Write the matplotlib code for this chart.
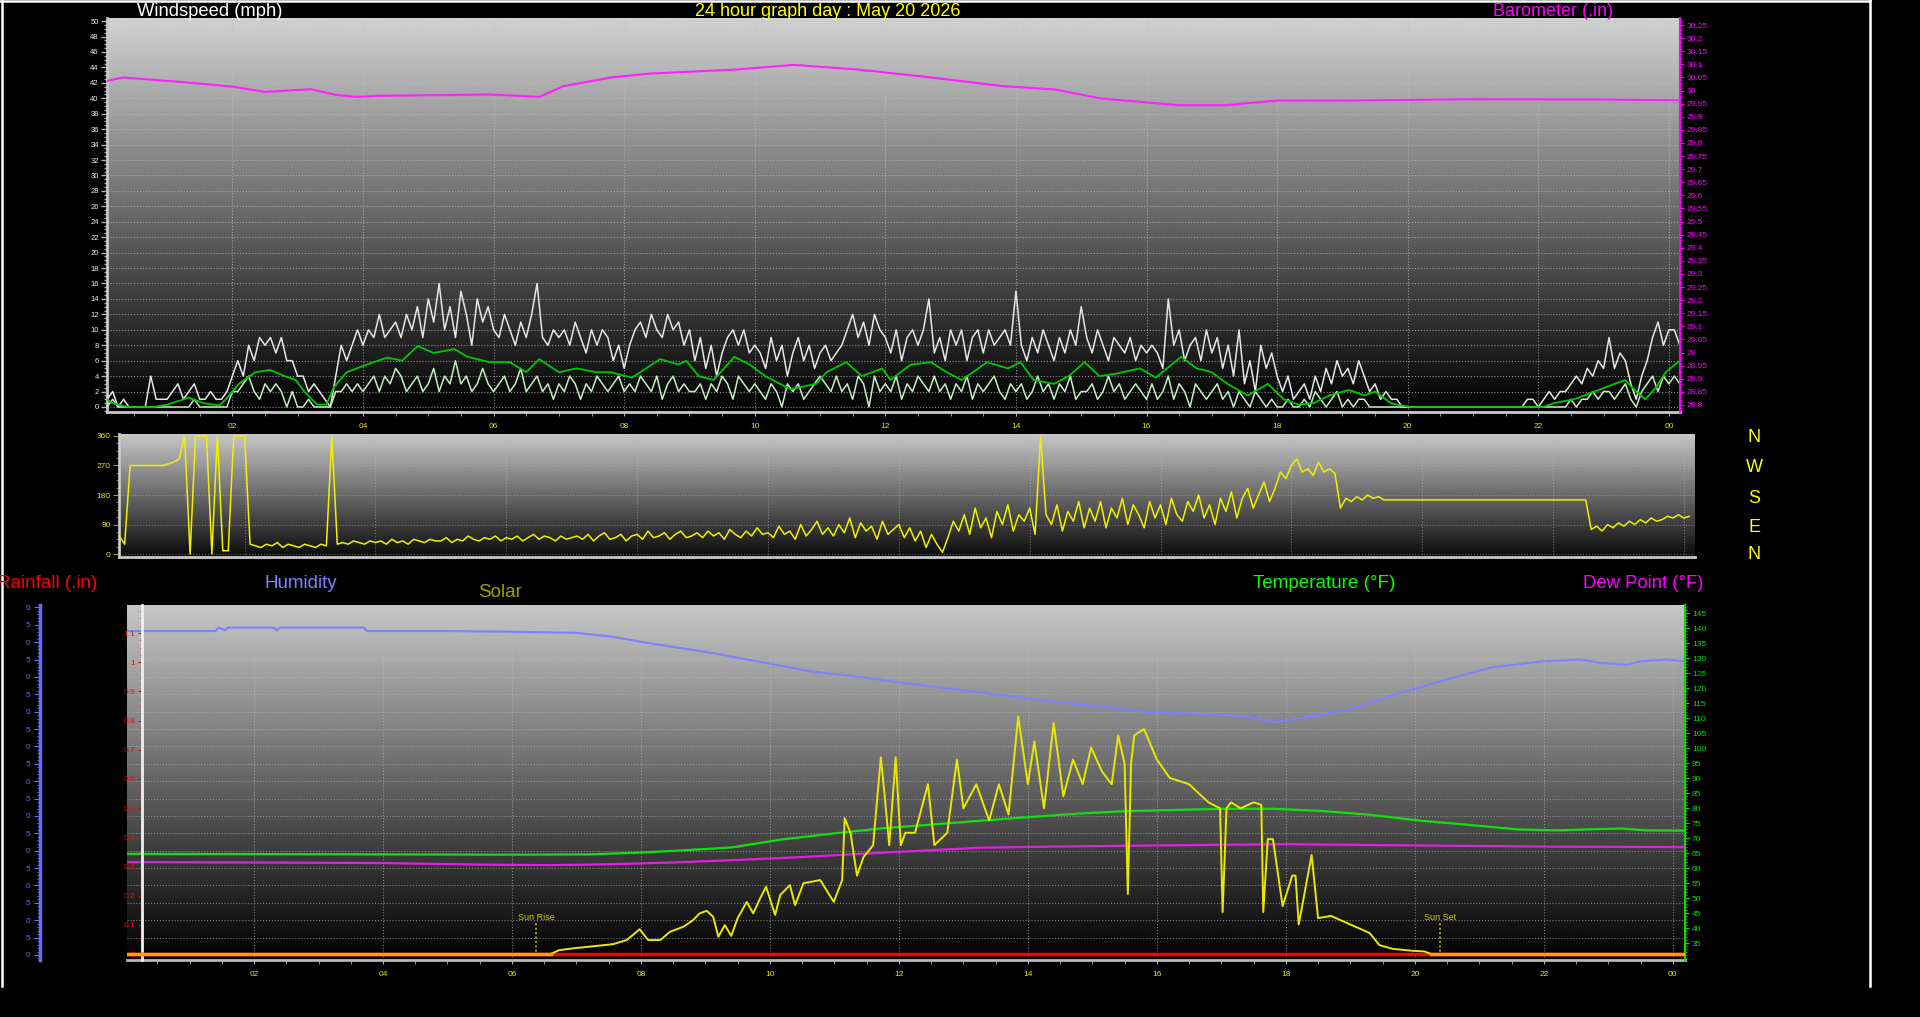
import numpy as np
import matplotlib
matplotlib.use("Agg")
import matplotlib.pyplot as plt
from matplotlib.ticker import MultipleLocator, FuncFormatter
from matplotlib.lines import Line2D

plt.rcParams['font.family'] = ['Liberation Sans', 'DejaVu Sans']

# ---------------- data (hours of the day) ----------------
# 5 minute samples, first one at 00:05
gust = [1, 2, 0, 1, 0, 0, 0, 0, 4, 1, 1, 1,          # 00
        2, 3, 1, 2, 3, 1, 1, 2, 1, 1, 2, 4,          # 01
        6, 4, 8, 6, 9, 8, 9, 7, 9, 6, 6, 4,          # 02
        4, 2, 3, 2, 1, 0, 4, 8, 6, 8, 10, 8,         # 03
        10, 9, 12, 9, 10, 11, 9, 12, 10, 13, 9, 14,  # 04
        11, 16, 10, 13, 9, 15, 12, 8, 14, 11, 13, 10,
        9, 12, 10, 8, 11, 9, 12, 16, 9, 8, 10, 9,
        10, 8, 11, 9, 7, 10, 8, 10, 9, 6, 8, 5,
        8, 10, 11, 9, 12, 10, 9, 12, 10, 11, 8, 10,  # 08
        6, 9, 5, 8, 4, 7, 9, 10, 8, 10, 7, 8,
        7, 5, 9, 6, 8, 4, 7, 9, 6, 8, 5, 7,
        8, 6, 7, 8, 10, 12, 9, 11, 8, 12, 10, 9,
        7, 10, 6, 9, 10, 8, 10, 14, 7, 9, 6, 10,     # 12
        8, 10, 6, 9, 10, 7, 10, 8, 9, 10, 8, 15,
        8, 6, 9, 7, 10, 8, 6, 9, 7, 10, 8, 13,
        9, 7, 10, 8, 6, 9, 8, 7, 9, 6, 8, 7,
        8, 7, 5, 14, 8, 10, 6, 8, 9, 6, 10, 7,       # 16
        9, 5, 8, 4, 10, 3, 6, 2, 8, 5, 7, 4,
        2, 4, 1, 2, 3, 1, 4, 2, 5, 3, 6, 4,
        5, 3, 6, 4, 2, 3, 1, 2, 1, 1, 0, 0,
        0, 0, 0, 0, 0, 0, 0, 0, 0, 0, 0, 0,          # 20
        0, 0, 0, 0, 0, 0, 0, 0, 0, 1, 1, 0,
        1, 2, 1, 2, 2, 3, 4, 3, 5, 4, 6, 5,
        9, 5, 7, 6, 3, 1, 4, 6, 9, 11, 8, 10,
        10, 8]

wind = [0, 1, 0, 0, 0, 0, 0, 0, 0, 0, 0, 0,
        0, 0, 0, 0, 1, 0, 0, 0, 0, 0, 0, 2,
        2, 3, 4, 2, 1, 3, 2, 3, 2, 0, 2, 0,
        0, 1, 0, 0, 0, 0, 2, 2, 3, 2, 3, 2,
        3, 4, 2, 4, 3, 5, 4, 2, 3, 4, 2, 3,
        5, 2, 4, 3, 6, 3, 4, 2, 3, 5, 3, 2,
        3, 4, 2, 3, 5, 2, 3, 4, 2, 3, 1, 3,
        2, 4, 3, 1, 3, 2, 4, 3, 2, 3, 4, 2,
        3, 2, 4, 3, 2, 4, 1, 3, 4, 2, 3, 2,
        2, 3, 1, 3, 2, 4, 3, 1, 4, 3, 2, 3,
        2, 1, 3, 2, 0, 3, 2, 3, 1, 2, 3, 4,
        3, 2, 4, 2, 3, 1, 4, 3, 0, 4, 2, 3,
        2, 4, 1, 3, 2, 4, 3, 2, 4, 2, 3, 1,
        3, 2, 4, 1, 3, 2, 3, 4, 2, 1, 3, 2,
        3, 1, 2, 4, 2, 3, 1, 3, 2, 4, 1, 2,
        2, 3, 1, 2, 4, 2, 3, 1, 2, 3, 2, 1,
        3, 1, 2, 4, 1, 3, 2, 0, 3, 2, 1, 2,
        3, 1, 2, 0, 2, 1, 0, 2, 1, 0, 1, 0,
        0, 1, 0, 0, 1, 0, 2, 1, 0, 1, 2, 0,
        1, 0, 1, 1, 0, 0, 0, 0, 0, 0, 0, 0,
        0, 0, 0, 0, 0, 0, 0, 0, 0, 0, 0, 0,
        0, 0, 0, 0, 0, 0, 0, 0, 0, 0, 0, 0,
        0, 0, 0, 0, 0, 1, 0, 1, 1, 2, 1, 2,
        2, 1, 2, 3, 1, 0, 2, 3, 4, 2, 4, 3,
        4, 3]

avg_t = [0.08, 0.16, 0.4, 0.8, 1.0, 1.33, 1.56, 1.8, 1.9, 2.1,
         2.35, 2.58, 2.8, 2.97, 3.1, 3.3, 3.44, 3.55, 3.75, 4.06,
         4.37, 4.6, 4.84, 5.08, 5.4, 5.6, 5.94, 6.25, 6.5, 6.7,
         7.0, 7.27, 7.58, 7.8, 8.12, 8.55, 8.83, 8.95, 9.14, 9.37,
         9.69, 9.92, 10.16, 10.55, 10.94, 11.1, 11.4, 11.64, 11.95, 12.08,
         12.39, 12.7, 12.94, 13.17, 13.56, 13.88, 14.07, 14.27, 14.58, 14.81,
         15.05, 15.28, 15.52, 15.9, 16.14, 16.53, 16.77, 17.0, 17.24, 17.55,
         17.86, 18.1, 18.33, 18.56, 18.8, 19.1, 19.34, 19.5, 19.74, 19.9,
         20.05, 22.08, 22.24, 22.55, 22.86, 23.17, 23.33, 23.5, 23.64, 23.8,
         23.95, 24.17]
avg_v = [1.0, 0.5, 0.0, 0.0, 0.3, 1.2, 0.5, 0.2, 1.0, 3.0,
         4.5, 4.8, 4.0, 3.5, 2.0, 0.3, 0.3, 2.5, 4.5, 5.5,
         6.4, 6.0, 7.9, 7.0, 7.5, 6.5, 5.8, 5.8, 4.5, 6.2,
         4.5, 5.0, 4.5, 4.5, 3.8, 6.2, 5.5, 6.0, 4.0, 3.5,
         6.5, 5.5, 4.0, 2.3, 3.0, 4.5, 5.8, 4.0, 5.0, 3.5,
         5.5, 5.8, 4.5, 3.5, 5.8, 5.0, 5.8, 3.5, 3.0, 4.0,
         5.8, 4.0, 4.3, 5.0, 3.8, 6.5, 5.0, 4.5, 3.0, 1.5,
         3.0, 1.0, 0.3, 0.5, 1.5, 2.2, 1.5, 2.0, 0.5, 0.2,
         0.0, 0.0, 0.5, 1.0, 2.0, 3.0, 3.5, 2.0, 1.0, 2.5,
         4.5, 6.0]

baro_t = [0.08, 0.33, 1.35, 2.0, 2.5, 3.2, 3.6, 3.9, 4.26, 5.95,
          6.7, 7.07, 7.8, 8.4, 9.7, 10.6, 11.6, 12.7, 13.8, 14.6,
          15.3, 16.5, 17.2, 18.0, 19.1, 21.0, 22.9, 24.17]
baro_v = [30.037, 30.05, 30.03, 30.015, 29.995, 30.005, 29.983, 29.976, 29.98, 29.985,
          29.976, 30.017, 30.05, 30.065, 30.08, 30.098, 30.08, 30.05, 30.017, 30.004,
          29.97, 29.944, 29.944, 29.962, 29.962, 29.967, 29.966, 29.963]

# wind direction, 5 minute samples from 00:00
wdir = [55, 55, 30, 270, 270, 270, 270, 270, 270, 270, 275, 280,
        290, 360, 0, 360, 360, 360, 0, 360, 10, 10, 360, 360,
        360, 30, 25, 20, 30, 25, 35, 20, 30, 25, 20, 30,
        25, 20, 30, 25, 360, 30, 35, 30, 40, 35, 30, 40,
        35, 40, 30, 45, 35, 40, 30, 45, 40, 35, 45, 40,
        40, 50, 35, 45, 40, 55, 45, 40, 50, 45, 55, 40,
        50, 45, 55, 40, 50, 60, 45, 55, 50, 40, 55, 45,
        50, 55, 45, 60, 40, 55, 65, 45, 50, 60, 40, 55,
        60, 45, 70, 50, 55, 65, 45, 60, 70, 50, 55, 65,
        50, 70, 55, 65, 45, 75, 60, 50, 70, 55, 80, 60,
        65, 50, 85, 60, 70, 45, 90, 55, 75, 100, 60, 80,
        55, 90, 65, 110, 50, 95, 70, 85, 45, 100, 60, 75,
        90, 50, 80, 40, 70, 20, 60, 30, 5, 50, 100, 70,
        120, 60, 140, 80, 110, 50, 130, 90, 150, 70, 120, 100,
        140, 60, 360, 120, 90, 150, 70, 130, 100, 160, 80, 140,
        100, 160, 80, 140, 110, 170, 90, 150, 120, 80, 160, 110,
        150, 90, 170, 120, 100, 160, 130, 180, 110, 150, 90, 170,
        130, 190, 110, 170, 200, 140, 180, 220, 160, 200, 250, 230,
        270, 290, 250, 260, 240, 280, 250, 260, 245, 140, 170, 160,
        175, 165, 180, 170, 175, 165, 165, 165, 165, 165, 165, 165,
        165, 165, 165, 165, 165, 165, 165, 165, 165, 165, 165, 165,
        165, 165, 165, 165, 165, 165, 165, 165, 165, 165, 165, 165,
        165, 165, 165, 165, 165, 165, 165, 75, 85, 70, 90, 80,
        95, 85, 100, 90, 105, 95, 110, 100, 105, 115, 110, 120,
        110, 115]

hum_t = [0.03, 1.4, 1.45, 1.55, 1.6, 2.0, 2.3, 2.35, 2.4, 2.8,
         3.7, 3.75, 4.0, 5.0, 6.0, 6.99, 7.55, 8.1, 9.07, 9.8,
         10.6, 11.4, 12.1, 12.9, 13.6, 14.4, 15.15, 15.9, 16.7, 17.4,
         17.8, 18.2, 18.95, 19.7, 20.5, 21.2, 22.0, 22.55, 22.75, 22.9,
         23.3, 23.5, 23.9, 24.19]
hum_v = [93.2, 93.2, 94.2, 93.5, 94.2, 94.2, 94.2, 93.4, 94.2, 94.2,
         94.2, 93.2, 93.2, 93.2, 93.0, 92.7, 91.6, 89.8, 87.0, 84.5,
         81.7, 80.0, 78.2, 76.4, 74.7, 72.9, 71.5, 69.7, 69.4, 68.7,
         67.0, 68.0, 70.5, 75.0, 79.3, 82.8, 84.5, 85.0, 84.5, 84.0,
         83.5, 84.5, 85.0, 84.5]

temp_t = [0.03, 2, 4, 6, 7.2, 8.0, 8.7, 9.4, 10.2, 11.0,
          11.75, 12.5, 13.25, 14.0, 14.8, 15.5, 16.3, 17.05, 17.8, 18.6,
          19.3, 20.1, 20.8, 21.6, 22.2, 22.8, 23.2, 23.6, 24.19]
temp_v = [64.8, 64.7, 64.6, 64.5, 64.6, 65.2, 66.0, 66.9, 69.6, 71.6,
          73.3, 74.5, 75.8, 77.0, 78.2, 79.0, 79.4, 79.8, 79.8, 79.0,
          77.8, 75.8, 74.5, 72.9, 72.6, 73.0, 73.2, 72.6, 72.5]

dew_t = [0.03, 2, 4, 5.5, 6.6, 7.5, 8.5, 9.45, 10.4, 11.35,
         12.5, 13.25, 14.4, 16.1, 18.0, 19.9, 22.0, 24.19]
dew_v = [62.0, 61.9, 61.7, 61.2, 61.0, 61.3, 61.9, 62.7, 63.6, 64.7,
         66.0, 66.8, 67.2, 67.6, 68.0, 67.6, 67.2, 67.0]

rain_t = [0.03, 24.19]
rain_v = [0.0, 0.0]

sol_t = [0.03, 6.6, 6.73, 7.0, 7.2, 7.57, 7.78, 7.98, 8.11, 8.3,
         8.45, 8.66, 8.81, 8.91, 9.02, 9.12, 9.2, 9.3, 9.4, 9.5,
         9.64, 9.74, 9.85, 9.94, 10.08, 10.16, 10.31, 10.39, 10.52, 10.78,
         10.99, 11.12, 11.16, 11.25, 11.35, 11.45, 11.6, 11.72, 11.78, 11.85,
         11.95, 12.03, 12.1, 12.25, 12.45, 12.55, 12.75, 12.9, 13.0, 13.2,
         13.4, 13.55, 13.7, 13.85, 14.0, 14.1, 14.25, 14.4, 14.55, 14.7,
         14.85, 14.98, 15.15, 15.3, 15.4, 15.5, 15.55, 15.6, 15.65, 15.8,
         16.0, 16.2, 16.5, 16.8, 16.98, 17.02, 17.08, 17.15, 17.3, 17.5,
         17.62, 17.65, 17.72, 17.8, 17.95, 18.1, 18.15, 18.2, 18.4, 18.5,
         18.7, 19.0, 19.3, 19.45, 19.66, 19.97, 20.15, 20.25, 24.19]
sol_v = [0, 0, 12, 19, 23, 31, 44, 78, 44, 44,
         70, 86, 107, 128, 136, 117, 54, 91, 57, 113,
         164, 128, 176, 212, 123, 186, 217, 154, 223, 233,
         164, 233, 428, 381, 247, 305, 343, 620, 497, 343,
         620, 343, 382, 382, 535, 343, 382, 613, 459, 535,
         421, 535, 440, 748, 535, 670, 459, 728, 497, 613,
         535, 651, 575, 535, 689, 600, 189, 600, 689, 709,
         613, 555, 535, 478, 459, 132, 459, 478, 459, 478,
         470, 132, 362, 362, 151, 247, 247, 93, 312, 113,
         120, 93, 66, 28, 16, 10, 8, 0, 0]

sunrise, sunset = 6.38, 20.39
hour_ticks = list(range(2, 25, 2))

# ---------------- figure ----------------
W, H = 1920, 1017
fig = plt.figure(figsize=(W / 100, H / 100), dpi=100, facecolor='black')


def box(l, t, r, b):
    return [l / W, 1 - b / H, (r - l) / W, (b - t) / H]


def shade(ax, top, bottom=0.0):
    g = np.linspace(bottom, top, 256).reshape(-1, 1)
    ax.imshow(g, extent=[0, 1, 0, 1], transform=ax.transAxes, origin='lower',
              cmap='gray', vmin=0, vmax=1, aspect='auto', zorder=0)


def ftext(x, y, s, **kw):
    fig.text(x / W, 1 - y / H, s, **kw)


def hour_fmt(v, p):
    return '%02d' % (int(round(v)) % 24)


def hide(ax, keep):
    for s in ['top', 'bottom', 'left', 'right']:
        ax.spines[s].set_visible(s in keep)


t5 = (np.arange(len(gust)) + 1) * 5 / 60.0
td = np.arange(len(wdir)) * 5 / 60.0

# ---- windspeed / barometer ----
ax1 = fig.add_axes(box(107, 18, 1680, 412))
shade(ax1, 0.82)
ax1.plot(t5, gust, color='#e6e6e6', lw=1.1, zorder=3)
ax1.plot(t5, wind, color='#c4eec0', lw=1.1, zorder=4)
ax1.plot(avg_t, avg_v, color='#00c800', lw=1.3, zorder=5)
ax1.set_xlim(0.08, 24.17)
ax1.set_ylim(-0.65, 50.4)
ax1.yaxis.set_major_locator(MultipleLocator(2))
ax1.yaxis.set_minor_locator(MultipleLocator(0.5))
ax1.set_xticks(hour_ticks)
ax1.xaxis.set_minor_locator(MultipleLocator(0.5))
ax1.xaxis.set_major_formatter(FuncFormatter(hour_fmt))
ax1.grid(True, which='major', color='#c0c0c0', ls=':', lw=0.8, alpha=0.7)
hide(ax1, ['left', 'bottom'])
for s in ['left', 'bottom']:
    ax1.spines[s].set_color('#c8c8c8')
    ax1.spines[s].set_linewidth(2)
ax1.tick_params(axis='y', which='both', colors='#b0b0b0', labelcolor='#f0f0e0',
                labelsize=5.5, length=4, width=1, pad=2)
ax1.tick_params(axis='y', which='minor', length=2)
ax1.tick_params(axis='x', which='both', colors='#b0b0b0', labelcolor='#e6e600',
                labelsize=6, length=3, pad=5)

ax1b = ax1.twinx()
ax1b.plot(baro_t, baro_v, color='#ff20ff', lw=1.5, zorder=6)
ax1b.set_ylim(28.773, 30.277)
ax1b.yaxis.set_major_locator(MultipleLocator(0.05))
ax1b.yaxis.set_minor_locator(MultipleLocator(0.01))
ax1b.yaxis.set_major_formatter(FuncFormatter(lambda v, p: '%g' % round(v, 2)))
hide(ax1b, ['right'])
ax1b.spines['right'].set_color('#ff00ff')
ax1b.spines['right'].set_linewidth(1.5)
ax1b.tick_params(axis='y', which='both', colors='#ff00ff', labelsize=6, length=3, pad=2)
ax1b.tick_params(axis='y', which='minor', length=1.5)

# ---- wind direction ----
ax2 = fig.add_axes(box(119, 434, 1695, 557))
shade(ax2, 0.78, 0.04)
ax2.plot(td, wdir, color='#f0f000', lw=1.1, zorder=3)
ax2.set_xlim(0.08, 24.17)
ax2.set_ylim(-9, 366)
ax2.set_yticks([0, 90, 180, 270, 360])
ax2.yaxis.set_minor_locator(MultipleLocator(22.5))
ax2.set_xticks(hour_ticks)
ax2.grid(True, which='major', color='#c0c0c0', ls=':', lw=0.8, alpha=0.5)
hide(ax2, ['left', 'bottom'])
for s in ['left', 'bottom']:
    ax2.spines[s].set_color('#c8c8c8')
    ax2.spines[s].set_linewidth(2)
ax2.tick_params(axis='y', which='both', colors='#a0a000', labelcolor='#e6e600',
                labelsize=6, length=4, pad=2)
ax2.tick_params(axis='y', which='minor', length=2)
ax2.tick_params(axis='x', length=0, labelbottom=False)

for ch, yy in zip('NWSEN', [442, 472, 503, 532, 559]):
    ftext(1754, yy, ch, color='#ffff00', fontsize=13, ha='center', va='baseline')

# ---- humidity / temperature / rain / solar ----
ax3 = fig.add_axes(box(127, 605, 1685, 960))
shade(ax3, 0.78)
ax3.plot(hum_t, hum_v, color='#8080ff', lw=1.5, zorder=3)
ax3.set_xlim(0.03, 24.19)
ax3.set_ylim(-1.44, 100.7)
ax3.yaxis.set_major_locator(MultipleLocator(5))
ax3.yaxis.set_minor_locator(MultipleLocator(1))
ax3.yaxis.set_major_formatter(FuncFormatter(lambda v, p: ('%d' % round(v))[-1]))
ax3.set_xticks(hour_ticks)
ax3.xaxis.set_minor_locator(MultipleLocator(0.5))
ax3.xaxis.set_major_formatter(FuncFormatter(hour_fmt))
ax3.grid(True, which='major', color='#c0c0c0', ls=':', lw=0.8, alpha=0.6)
hide(ax3, ['left', 'bottom'])
ax3.spines['left'].set_position(('axes', (40 - 127) / (1685 - 127)))
ax3.spines['left'].set_color('#6a6aff')
ax3.spines['left'].set_linewidth(2.5)
ax3.spines['bottom'].set_color('#b8b8b8')
ax3.spines['bottom'].set_linewidth(2)
ax3.tick_params(axis='y', which='both', colors='#6a6aff', labelsize=6, length=4, pad=3)
ax3.tick_params(axis='y', which='minor', length=2)
ax3.tick_params(axis='x', which='both', colors='#b0b0b0', labelcolor='#e6e600',
                labelsize=6, length=3, pad=5)

ax3t = ax3.twinx()
ax3t.plot(temp_t, temp_v, color='#10e010', lw=1.6, zorder=3)
ax3t.plot(dew_t, dew_v, color='#e020e0', lw=1.6, zorder=3)
ax3t.set_ylim(29.4, 147.7)
ax3t.yaxis.set_minor_locator(MultipleLocator(1))
ax3t.set_yticks(range(35, 146, 5))
hide(ax3t, ['right'])
ax3t.spines['right'].set_color('#00e000')
ax3t.spines['right'].set_linewidth(1.5)
ax3t.tick_params(axis='y', which='both', colors='#00e000', labelsize=6, length=3, pad=2)
ax3t.tick_params(axis='y', which='minor', length=1.5)

ax3r = ax3.twinx()
ax3r.plot(rain_t, rain_v, color='#ff0000', lw=2.5, zorder=3)
ax3r.set_ylim(-0.02, 1.196)
ax3r.yaxis.tick_left()
hide(ax3r, ['left'])
ax3r.spines['left'].set_position(('axes', (142 - 127) / (1685 - 127)))
ax3r.spines['left'].set_color('#f0f0f0')
ax3r.spines['left'].set_linewidth(2)
ax3r.yaxis.set_major_locator(MultipleLocator(0.1))
ax3r.yaxis.set_minor_locator(MultipleLocator(0.025))
ax3r.yaxis.set_major_formatter(FuncFormatter(lambda v, p: '%g' % round(v, 2)))
ax3r.tick_params(axis='y', which='both', colors='#e00000', labelcolor='#ff0000',
                 labelsize=6, length=3, pad=2)
ax3r.tick_params(axis='y', which='minor', length=1.5)

ax3s = ax3.twinx()
ax3s.set_axis_off()
sol = np.array(sol_v, dtype=float)
ax3s.plot(sol_t, sol, color='#e8e800', lw=1.4, zorder=3)
ax3s.plot(sol_t, np.ma.masked_where(sol > 0, sol), color='#ffa000', lw=2.5, zorder=4)
ax3s.set_ylim(-19, 1100)
for hh, lab in [(sunrise, 'Sun Rise'), (sunset, 'Sun Set')]:
    ax3s.axvline(hh, ymin=0.011, ymax=0.11, color='#d8d800', ls=':', lw=1.2)
    ax3s.text(hh, 0.113, lab, transform=ax3s.get_xaxis_transform(), color='#c8c800',
              fontsize=6.5, ha='center', va='baseline')

# ---- titles (y values are text baselines) ----
ftext(828, 16, '24 hour graph day : May 20 2026', color='#ffff00', fontsize=13, ha='center', va='baseline')
ftext(137, 16, 'Windspeed (mph)', color='white', fontsize=13.2, ha='left', va='baseline')
ftext(1613, 16, 'Barometer (.in)', color='#ff00ff', fontsize=13, ha='right', va='baseline')
ftext(97, 588, 'Rainfall (.in)', color='#ff0000', fontsize=13.5, ha='right', va='baseline')
ftext(265, 588, 'Humidity', color='#8080ff', fontsize=13.5, ha='left', va='baseline')
ftext(478, 597, 'Solar', color='#a0a000', fontsize=13.5, ha='left', va='baseline')
ftext(1253, 588, 'Temperature (\u00b0F)', color='#00ff00', fontsize=13.6, ha='left', va='baseline')
ftext(1583, 588, 'Dew Point (\u00b0F)', color='#ff00ff', fontsize=13.3, ha='left', va='baseline')

# white frame
for xs, ys in [([2, 2], [0, 986]), ([1870, 1870], [0, 986]), ([0, 1870], [0.5, 0.5])]:
    fig.add_artist(Line2D([x / W for x in xs], [1 - y / H for y in ys],
                          color='white', lw=1.8, transform=fig.transFigure))

fig.savefig('out.png', dpi=100, facecolor='black')
